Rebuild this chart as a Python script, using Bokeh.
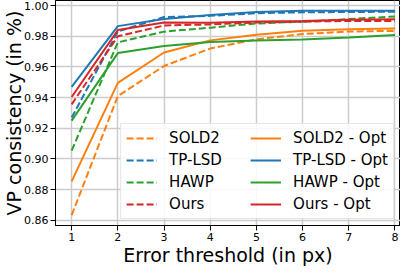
from bokeh.plotting import figure
from bokeh.models import Legend, LegendItem, FixedTicker, Range1d
from bokeh.embed import file_html
from bokeh.resources import INLINE

thresholds = [1, 2, 3, 4, 5, 6, 7, 8]

sold2 = [0.8633, 0.9410, 0.9606, 0.9720, 0.9780, 0.9814, 0.9831, 0.9835]
tplsd = [0.9270, 0.9831, 0.9925, 0.9933, 0.9950, 0.9956, 0.9958, 0.9960]
hawp = [0.9054, 0.9760, 0.9830, 0.9856, 0.9883, 0.9895, 0.9912, 0.9929]
ours = [0.9356, 0.9800, 0.9870, 0.9877, 0.9890, 0.9895, 0.9900, 0.9900]

sold2_opt = [0.8854, 0.9496, 0.9694, 0.9773, 0.9810, 0.9835, 0.9846, 0.9850]
tplsd_opt = [0.9470, 0.9866, 0.9913, 0.9939, 0.9958, 0.9966, 0.9966, 0.9966]
hawp_opt = [0.9250, 0.9690, 0.9737, 0.9762, 0.9773, 0.9779, 0.9791, 0.9808]
ours_opt = [0.9404, 0.9840, 0.9890, 0.9888, 0.9896, 0.9900, 0.9908, 0.9910]

names = ["SOLD2", "TP-LSD", "HAWP", "Ours"]
colors = ["#ff7f0e", "#1f77b4", "#2ca02c", "#d62728"]
y_ticks = [0.86, 0.88, 0.90, 0.92, 0.94, 0.96, 0.98, 1.00]

p = figure(width=400, height=268, output_backend="svg", toolbar_location=None,
           x_range=Range1d(0.65, 8.12), y_range=Range1d(0.8566, 1.0033),
           min_border_left=40, min_border_right=0, min_border_top=0, min_border_bottom=36)

p.outline_line_color = "black"
p.outline_line_width = 1
p.background_fill_color = "white"
p.border_fill_color = "white"

for ax in (p.xaxis[0], p.yaxis[0]):
    ax.axis_line_color = "black"
    ax.major_tick_out = 5
    ax.major_tick_in = 0
    ax.minor_tick_out = 0
    ax.minor_tick_in = 0
    ax.major_tick_line_color = "black"
    ax.major_label_text_font = "DejaVu Sans"
    ax.major_label_text_font_size = "11px"
    ax.major_label_text_color = "black"
    ax.axis_label_text_font = "DejaVu Sans"
    ax.axis_label_text_font_size = "19px"
    ax.axis_label_text_font_style = "normal"
    ax.axis_label_text_color = "black"
    ax.major_label_standoff = 2

p.xaxis.ticker = FixedTicker(ticks=thresholds)
p.yaxis.ticker = FixedTicker(ticks=y_ticks)
p.yaxis.major_label_overrides = {t: f"{t:.2f}" for t in y_ticks}
p.xaxis.axis_label = "Error threshold (in px)"
p.yaxis.axis_label = "VP consistency (in %)"
p.xaxis.axis_label_standoff = 0
p.yaxis.axis_label_standoff = -4

p.grid.grid_line_color = "#cccccc"
p.grid.grid_line_width = 1.5

dashed = [sold2, tplsd, hawp, ours]
solid = [sold2_opt, tplsd_opt, hawp_opt, ours_opt]

items_dashed = []
items_solid = []
for name, c, d in zip(names, colors, dashed):
    r = p.line(thresholds, d, line_color=c, line_width=2, line_dash="7 3")
    items_dashed.append(LegendItem(label=name, renderers=[r]))
for name, c, s in zip(names, colors, solid):
    r = p.line(thresholds, s, line_color=c, line_width=2)
    items_solid.append(LegendItem(label=name + " - Opt", renderers=[r]))

legend = Legend(items=items_dashed + items_solid, location="bottom_right",
                orientation="vertical", nrows=4,
                label_text_font="DejaVu Sans", label_text_font_size="15px",
                label_text_color="black",
                glyph_width=31, glyph_height=18, label_standoff=12,
                label_width=77, label_height=18,
                spacing=4, padding=5, margin=6,
                border_line_color="#cccccc", border_line_width=1,
                background_fill_color="white", background_fill_alpha=0.85)
p.add_layout(legend)

open("out.html", "w").write(file_html(p, INLINE))
